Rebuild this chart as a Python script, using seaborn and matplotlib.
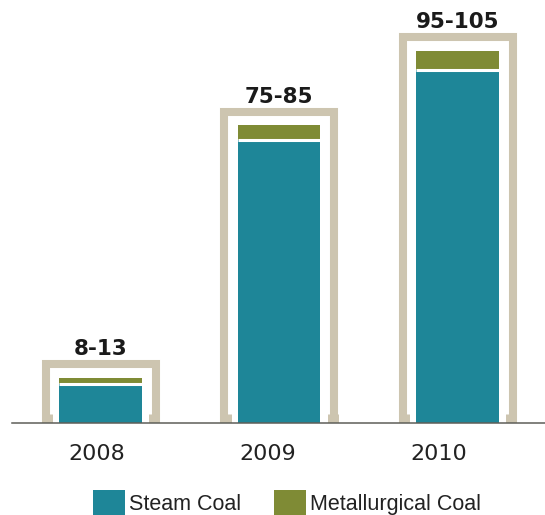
import matplotlib
matplotlib.use("Agg")
import matplotlib.pyplot as plt
import seaborn as sns
import pandas as pd
from matplotlib.patches import Patch

# Production outlook (million tonnes)
years = ["2008", "2009", "2010"]
steam_coal = [10.6, 76, 95]
metallurgical_coal = [1.6, 4, 5]
range_labels = ["8-13", "75-85", "95-105"]

TEAL = "#1e8698"
OLIVE = "#7f8b35"
BEIGE = "#cdc5b0"
AXIS = "#5e5e58"

df = pd.DataFrame({"year": years, "steam": steam_coal, "met": metallurgical_coal})
df["total"] = df["steam"] + df["met"]

sns.set_style("white")
plt.rcParams["font.family"] = ["DejaVu Sans"]

fig = plt.figure(figsize=(5.45, 5.15), dpi=100)
ax = fig.add_axes([12 / 545, 92 / 515, 533 / 545, 423 / 515])

BAR_W = 0.46
FRAME_W = 0.616
FRAME_PAD = 3.7

# stacked bars: full total in olive, steam coal in teal over it
sns.barplot(data=df, x="year", y="total", color=OLIVE, saturation=1, width=BAR_W,
            errorbar=None, linewidth=0, ax=ax, zorder=2)
sns.barplot(data=df, x="year", y="steam", color=TEAL, saturation=1, width=BAR_W,
            errorbar=None, linewidth=0, ax=ax, zorder=3)

# thin white separator between the two segments
for i, s in enumerate(df["steam"]):
    ax.hlines(s, i - BAR_W / 2, i + BAR_W / 2, color="white", lw=2.2, zorder=4)

# open range frame around each stack, with small feet at the base
foot_off = 1.5 / 178.5
for i, tot in enumerate(df["total"]):
    top = tot + FRAME_PAD
    x0, x1 = i - FRAME_W / 2, i + FRAME_W / 2
    ax.plot([x0, x0, x1, x1], [0, top, top, 0], color=BEIGE, lw=5.8,
            solid_joinstyle="miter", solid_capstyle="butt", zorder=1)
    for xf in (x0 + foot_off, x1 - foot_off):
        ax.plot([xf, xf], [0, 2.4], color=BEIGE, lw=7.9,
                solid_capstyle="butt", zorder=1)
    ax.annotate(range_labels[i], xy=(i, top), xytext=(0, 6.5),
                textcoords="offset points", ha="center", va="baseline",
                fontsize=15.5, fontweight="bold", color="#1a1a1a")

ax.set_xlim(-0.496, 2.49)
ax.set_ylim(0, 113.7)
ax.set_xticks([-0.02 + 0.958 * i for i in range(len(years))], labels=years)
ax.set_xticks([-0.493, 0.457, 1.42], minor=True)
ax.tick_params(axis="x", which="major", length=0, pad=15, labelsize=16,
               labelcolor="#222222")
ax.tick_params(axis="x", which="minor", length=4.5, width=1, color=AXIS,
               direction="out")
ax.set_yticks([])
ax.set_xlabel("")
ax.set_ylabel("")
for sp in ("top", "right", "left"):
    ax.spines[sp].set_visible(False)
ax.spines["bottom"].set_color(AXIS)
ax.spines["bottom"].set_linewidth(1.1)
ax.spines["bottom"].set_zorder(5)

handles = [Patch(facecolor=TEAL, linewidth=0, label="Steam Coal"),
           Patch(facecolor=OLIVE, linewidth=0, label="Metallurgical Coal")]
fig.legend(handles=handles, loc="center left", bbox_to_anchor=(93 / 545, 1 - 503 / 515),
           ncol=2, frameon=False, prop={"family": "Liberation Sans", "size": 15.5},
           handlelength=1.5, handleheight=1.5, handletextpad=0.19,
           columnspacing=1.49, borderpad=0, borderaxespad=0, labelcolor="#222222")

fig.savefig("out.png", dpi=100, facecolor="white")
